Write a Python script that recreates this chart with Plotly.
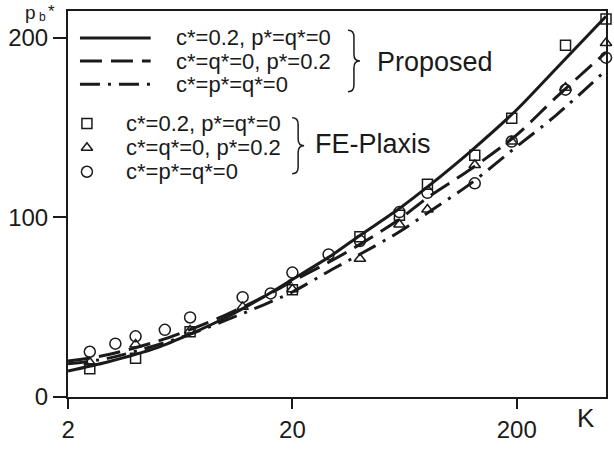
import plotly.graph_objects as go
import math

# ---- data ----
K_line = [2, 3, 5, 7, 10, 15, 20, 30, 40, 60, 80, 125, 200, 300, 500]
p_solid = [14.5, 19.5, 27.5, 35, 44, 56, 65.5, 79, 90, 105, 117, 137, 160, 183, 212]
p_dash = [20, 23.5, 31, 37.5, 45.5, 56, 64.5, 76, 85, 99, 111, 127, 146, 167, 192]
p_dashdot = [18.5, 21.5, 29, 35, 42.5, 51.5, 58.5, 71, 79.5, 92, 102.5, 119, 139.5, 157, 182]

K_sq = [2.5, 4, 7, 20, 40, 60, 80, 130, 190, 330, 500]
p_sq = [15.7, 21.6, 36.3, 59.7, 89.2, 101.2, 118.5, 134.6, 155.3, 195.9, 210.6]
K_tri = [2.5, 4, 7, 12, 20, 40, 60, 80, 130, 190, 330, 500]
p_tri = [19.3, 29.3, 37, 50.2, 60, 77, 96.1, 104.4, 129.2, 142.3, 172.3, 197.2]
K_cir = [2.5, 3.25, 4, 5.4, 7, 12, 16, 20, 29, 40, 60, 80, 130, 190, 330, 500]
p_cir = [25.2, 29.7, 33.8, 37.4, 44.3, 55.6, 57.7, 69.3, 79.4, 86.9, 103, 113.7, 119, 142.3, 171.2, 189]

x_ticks = [2, 20, 200]
x_ticklabels = ["2", "20", "200"]
y_ticks = [0, 100, 200]
y_ticklabels = ["0", "100", "200"]

labels = ["c*=0.2, p*=q*=0", "c*=q*=0, p*=0.2", "c*=p*=q*=0"]
group_labels = ["Proposed", "FE-Plaxis"]

INK = "#1a1a1a"
FONT = "Liberation Sans, Arial, sans-serif"
DASH = "22px,9px"
DASHDOT = "20px,8px,3px,8px"
line_styles = ["solid", DASH, DASHDOT]
symbols = ["square-open", "triangle-up-open", "circle-open"]
sym_sizes = [10, 10, 11]

# plot-area pixel box
L, R, T, B = 68, 608, 11, 412
def px(xp):
    return (xp - L) / (R - L)
def py(yp):
    return (B - yp) / (B - T)

fig = go.Figure()

for p, d in zip([p_solid, p_dash, p_dashdot], line_styles):
    fig.add_trace(go.Scatter(x=K_line, y=p, mode="lines",
                             line=dict(color=INK, width=3, dash=d, shape="spline", smoothing=0.8),
                             showlegend=False))

for kk, pp, s, sz in zip([K_sq, K_tri, K_cir], [p_sq, p_tri, p_cir], symbols, sym_sizes):
    fig.add_trace(go.Scatter(x=kk, y=pp, mode="markers", cliponaxis=False,
                             marker=dict(symbol=s, size=sz, color=INK, line=dict(width=1.5, color=INK)),
                             showlegend=False))

# ---- hand-built legend on a pixel-coordinate overlay axis ----
rows_prop = [39, 63, 87]
rows_fe = [128, 153, 178]
for yy, d in zip(rows_prop, line_styles):
    fig.add_trace(go.Scatter(x=[80, 151], y=[yy, yy], mode="lines", xaxis="x2", yaxis="y2",
                             line=dict(color=INK, width=3, dash=d), showlegend=False, cliponaxis=False))
for yy, s, sz in zip(rows_fe, symbols, sym_sizes):
    fig.add_trace(go.Scatter(x=[87], y=[yy], mode="markers", xaxis="x2", yaxis="y2", cliponaxis=False,
                             marker=dict(symbol=s, size=sz, color=INK, line=dict(width=1.5, color=INK)),
                             showlegend=False))

ann = []
def add_text(x, y, t, size, xanchor="left", pad=1):
    ann.append(dict(x=px(x), y=py(y), xref="paper", yref="paper", text=t, showarrow=False,
                    xanchor=xanchor, yanchor="middle", borderpad=pad,
                    font=dict(size=size, color=INK, family=FONT)))

for yy, t in zip(rows_prop, labels):
    add_text(174, yy, t, 22)
for yy, t in zip(rows_fe, labels):
    add_text(124, yy, t, 22)
add_text(376, 64, group_labels[0], 27)
add_text(314, 149, group_labels[1], 27)
# axis titles
add_text(30, 13, "p", 19, "center", 0)
add_text(38, 17, "b", 12, "left", 0)
add_text(47, 11, "*", 17, "left", 0)
add_text(588, 434, "K", 26, "center")

brace1 = ("M 349,31 Q 355,31 355,38 L 355,56 Q 355,63 361,63 "
          "Q 355,63 355,70 L 355,88 Q 355,95 349,95")
brace2 = ("M 293,122 Q 299,122 299,129 L 299,144 Q 299,151 305,151 "
          "Q 299,151 299,158 L 299,173 Q 299,180 293,180")
shapes = [dict(type="path", path=b, xref="x2", yref="y2", line=dict(color=INK, width=1.5))
          for b in (brace1, brace2)]

fig.update_layout(
    width=614, height=449,
    margin=dict(l=L, r=614 - R, t=T, b=449 - B),
    paper_bgcolor="white", plot_bgcolor="white",
    font=dict(family=FONT, color=INK),
    showlegend=False,
    xaxis=dict(type="log", range=[math.log10(1.999), math.log10(500)],
               tickvals=x_ticks, ticktext=x_ticklabels, ticks="outside", ticklen=10,
               tickwidth=1.5, tickcolor=INK, showline=True, linecolor=INK, linewidth=2,
               mirror=True, showgrid=False, zeroline=False,
               tickfont=dict(size=24, color=INK, family=FONT)),
    yaxis=dict(range=[0, 215], tickvals=y_ticks, ticktext=y_ticklabels, ticks="outside",
               ticklen=13, tickwidth=1.5, tickcolor=INK, showline=True, linecolor=INK,
               linewidth=2, mirror=True, showgrid=False, zeroline=False,
               tickfont=dict(size=24, color=INK, family=FONT)),
    xaxis2=dict(overlaying="x", range=[L, R], visible=False, fixedrange=True),
    yaxis2=dict(overlaying="y", range=[B, T], visible=False, fixedrange=True),
    annotations=ann,
    shapes=shapes,
)

fig.write_html("out.html", config={"displayModeBar": False},
               post_script="document.body.style.margin='0';document.body.style.overflow='hidden';")
